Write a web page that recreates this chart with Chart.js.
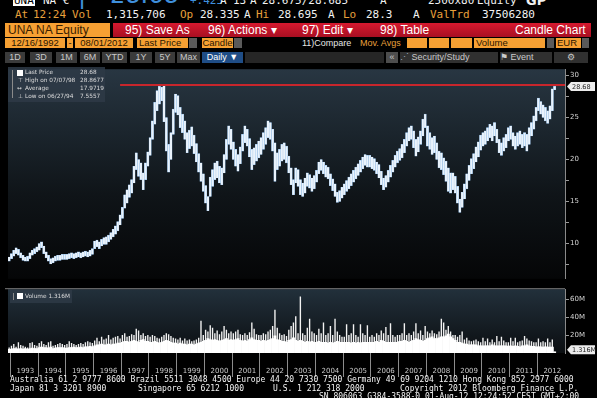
<!DOCTYPE html>
<html>
<head>
<meta charset="utf-8">
<script src="https://cdn.jsdelivr.net/npm/chart.js@4.4.0/dist/chart.umd.min.js"></script>
<style>
  body { margin: 0; background: #000; width: 597px; height: 398px; overflow: hidden; position: relative; font-family: "Liberation Sans", Arial, sans-serif; }
  .a { position: absolute; white-space: pre; }
  .m { font-family: "DejaVu Sans Mono", monospace; }
  .r1 { top: -5px; font-size: 11px; line-height: 11px; }
  .r2 { top: 9px; font-size: 11px; line-height: 12px; }
  .or { color: #e9a03c; }
  .wh { color: #f2f2f2; }
  .bl { color: #3f8fdc; }
  .box { position: absolute; background: #f6a033; color: #2a1600; font-size: 9.5px; line-height: 10px; text-align: center; }
  .gb { position: absolute; background: #5a5a5a; }
  .btn { position: absolute; top: 52px; height: 11px; background: #3b3b3b; color: #c9c9c9; font-size: 9px; line-height: 11px; text-align: center; }
  .red { position: absolute; color: #fff; font-size: 12px; line-height: 14px; top: 23px; }
  .lg { position: absolute; color: #dcdcdc; font-size: 5.8px; line-height: 7px; font-family: "DejaVu Sans", sans-serif; white-space: pre; }
  .ft { position: absolute; color: #f4f4f4; font-size: 8px; line-height: 9px; font-family: "DejaVu Sans Mono", monospace; white-space: pre; }
  canvas { position: absolute; left: 0; }
</style>
</head>
<body>
<!-- row 1, cut at the top -->
<div class="a m r1" style="left:13px;background:#fff;color:#000;padding:0 1px">UNA</div>
<div class="a m r1 wh" style="left:43px">NA €</div>
<div class="a bl" style="left:78px;top:-17px;font-size:24px;line-height:24px;font-family:'DejaVu Sans'">|</div>
<div class="a bl" style="left:110px;top:-17px;font-size:24px;line-height:24px;font-family:'DejaVu Sans'">28.68</div>
<div class="a m r1 bl" style="left:190px">+.425</div>
<div class="a m r1 wh" style="left:220px">A</div>
<div class="a m r1 wh" style="left:233px">13</div>
<div class="a m r1 wh" style="left:250px">A</div>
<div class="a m r1 wh" style="left:262px">28.675/28.685</div>
<div class="a m r1 wh" style="left:380px">A</div>
<div class="a m r1 wh" style="left:428px">2500x80</div>
<div class="a m r1 wh" style="left:477px">Equity</div>
<div class="a wh" style="left:526px;top:-6px;font-size:13px;line-height:13px;font-weight:bold;font-family:'DejaVu Sans'">GP</div>

<!-- row 2 -->
<div class="a m r2 or" style="left:15px">At</div>
<div class="a m r2 or" style="left:33px">12:24</div>
<div class="a m r2 or" style="left:72px">Vol</div>
<div class="a m r2 wh" style="left:106px">1,315,706</div>
<div class="a m r2 or" style="left:180px">Op</div>
<div class="a m r2 wh" style="left:200px">28.335</div>
<div class="a m r2 wh" style="left:244px">A</div>
<div class="a m r2 or" style="left:256px">Hi</div>
<div class="a m r2 wh" style="left:278px">28.695</div>
<div class="a m r2 wh" style="left:328px">A</div>
<div class="a m r2 or" style="left:343px">Lo</div>
<div class="a m r2 wh" style="left:366px">28.3</div>
<div class="a m r2 wh" style="left:413px">A</div>
<div class="a m r2 or" style="left:430px">ValTrd</div>
<div class="a m r2 wh" style="left:482px">37506280</div>

<!-- row 3 -->
<div class="a" style="left:5px;top:23px;width:105px;height:14px;background:#f6a033"></div>
<div class="a" style="left:8px;top:23px;font-size:12px;line-height:14px;color:#3a2000">UNA NA Equity</div>
<div class="a" style="left:113px;top:23px;width:478px;height:14px;background:linear-gradient(#d6192f,#a80f22)"></div>
<div class="red" style="left:125px">95) Save As</div>
<div class="red" style="left:208px">96) Actions ▾</div>
<div class="red" style="left:302px">97) Edit ▾</div>
<div class="red" style="left:380px">98) Table</div>
<div class="red" style="left:515px">Candle Chart</div>

<!-- row 4 -->
<div class="box" style="left:5px;top:38px;width:60px">12/16/1992</div>
<div class="box" style="left:67px;top:38px;width:6px">-</div>
<div class="box" style="left:75px;top:38px;width:58px">08/01/2012</div>
<div class="box" style="left:137px;top:38px;text-align:left;padding-left:2px;width:49px">Last Price</div>
<div class="gb" style="left:189px;top:38px;width:8px;height:10px"></div>
<div class="box" style="left:202px;top:38px;width:31px">Candle</div>
<div class="gb" style="left:234px;top:38px;width:8px;height:10px"></div>
<div class="a" style="left:302px;top:38px;font-size:9px;line-height:10px;color:#e6e6e6">11)Compare</div>
<div class="a or" style="left:360px;top:38px;font-size:9px;line-height:10px">Mov. Avgs</div>
<div class="box" style="left:407px;top:38px;width:20px;height:10px"></div>
<div class="box" style="left:429px;top:38px;width:20px;height:10px"></div>
<div class="box" style="left:451px;top:38px;width:21px;height:10px"></div>
<div class="box" style="left:474px;top:38px;width:69px;text-align:left;padding-left:2px">Volume</div>
<div class="gb" style="left:547px;top:38px;width:7px;height:10px"></div>
<div class="box" style="left:556px;top:38px;width:24px;text-align:left;padding-left:1px">EUR</div>
<div class="gb" style="left:582px;top:38px;width:7px;height:10px"></div>

<!-- row 5 -->
<div class="btn" style="left:5px;width:20px">1D</div>
<div class="btn" style="left:30px;width:22px">3D</div>
<div class="btn" style="left:56px;width:21px">1M</div>
<div class="btn" style="left:80px;width:20px">6M</div>
<div class="btn" style="left:102px;width:25px">YTD</div>
<div class="btn" style="left:130px;width:22px">1Y</div>
<div class="btn" style="left:155px;width:20px">5Y</div>
<div class="btn" style="left:177px;width:23px">Max</div>
<div class="btn" style="left:202px;width:41px;background:#1f4d86;color:#fff">Daily ▼</div>
<div class="btn" style="left:245px;width:139px;background:#262626"></div>
<div class="btn" style="left:386px;width:12px;background:#4d4d4d">«</div>
<div class="btn" style="left:400px;width:98px;background:#303030;text-align:left"><span style="color:#9ab">⋰</span> Security/Study</div>
<div class="btn" style="left:500px;width:52px;background:#303030;text-align:left"><span style="color:#ccc">⚑</span> Event</div>
<div class="btn" style="left:554px;width:34px;background:#303030">⚙</div>

<canvas id="price" width="597" height="220" style="top:64px"></canvas>
<canvas id="volume" width="597" height="94" style="top:284px"></canvas>

<!-- price legend -->
<div class="a" style="left:8px;top:67px;width:97px;height:35px;background:rgba(46,58,70,0.85)"></div>
<div class="a" style="left:12px;top:70px;width:1px;height:28px;background:#8a8a8a"></div>
<div class="a" style="left:17px;top:70px;width:6px;height:6px;background:#fff"></div>
<div class="lg" style="left:25px;top:69px">Last Price</div>
<div class="lg" style="left:80px;top:69px">28.68</div>
<div class="lg" style="left:18px;top:77px">⊤</div>
<div class="lg" style="left:25px;top:77px">High on 07/07/98</div>
<div class="lg" style="left:80px;top:77px">28.8677</div>
<div class="lg" style="left:17px;top:85px">↔</div>
<div class="lg" style="left:25px;top:85px">Average</div>
<div class="lg" style="left:80px;top:85px">17.9719</div>
<div class="lg" style="left:18px;top:93px">⊥</div>
<div class="lg" style="left:25px;top:93px">Low on 06/27/94</div>
<div class="lg" style="left:80px;top:93px">7.5557</div>

<!-- volume legend -->
<div class="a" style="left:10px;top:290px;width:62px;height:13px;background:rgba(46,58,70,0.85)"></div>
<div class="a" style="left:13px;top:293px;width:1px;height:7px;background:#8a8a8a"></div>
<div class="a" style="left:17px;top:293px;width:6px;height:6px;background:#fff"></div>
<div class="lg" style="left:25px;top:293px">Volume 1.316M</div>

<!-- footer -->
<div class="ft" style="left:10px;top:375px">Australia 61 2 9777 8600 Brazil 5511 3048 4500 Europe 44 20 7330 7500 Germany 49 69 9204 1210 Hong Kong 852 2977 6000</div>
<div class="ft" style="left:10px;top:384px">Japan 81 3 3201 8900</div>
<div class="ft" style="left:138px;top:384px">Singapore 65 6212 1000</div>
<div class="ft" style="left:273px;top:384px">U.S. 1 212 318 2000</div>
<div class="ft" style="left:400px;top:384px">Copyright 2012 Bloomberg Finance L.P.</div>
<div class="ft" style="left:319px;top:392px">SN 806063 G384-3588-0 01-Aug-12 12:24:52 CEST GMT+2:00</div>

<script>
// monthly candles, Dec 1992 .. Aug 2012 (EUR)
const years = ['1993', '1994', '1995', '1996', '1997', '1998', '1999', '2000', '2001', '2002',
  '2003', '2004', '2005', '2006', '2007', '2008', '2009', '2010', '2011', '2012'];
const monthCodes = ['01', '02', '03', '04', '05', '06', '07', '08', '09', '10', '11', '12'];

const priceLow = [
  7.9,
  8.2, 8.5, 8.8, 8.6, 8.3, 8.0, 7.9, 7.9, 8.2, 8.6, 8.8, 9.0,
  9.2, 9.5, 8.8, 8.3, 7.9, 7.56, 7.7, 7.9, 8.0, 8.0, 8.1, 8.1,
  8.1, 8.2, 8.3, 8.2, 8.3, 8.4, 8.3, 8.4, 8.5, 8.4, 8.5, 8.7,
  9.4, 9.6, 9.4, 9.7, 9.9, 9.9, 10.2, 10.5, 10.8, 11.1, 11.5, 12.2,
  13.0, 14.2, 14.8, 15.5, 16.0, 17.2, 18.8, 18.0, 17.6, 16.4, 17.6, 19.2,
  20.5, 22.4, 24.2, 25.8, 26.6, 27.0, 24.5, 21.0, 18.5, 20.0, 23.0, 25.6,
  25.3, 23.8, 23.2, 22.4, 20.8, 21.3, 21.6, 20.7, 19.7, 18.5, 17.4, 16.2,
  14.8, 13.9, 15.6, 16.8, 17.6, 17.8, 17.2, 17.0, 18.4, 20.0, 21.8, 21.2,
  20.0, 19.2, 18.6, 19.5, 21.0, 22.0, 21.6, 20.3, 18.8, 19.4, 19.8, 20.2,
  20.6, 21.2, 21.8, 22.6, 22.4, 21.0, 17.4, 18.8, 19.2, 19.8, 20.0, 19.6,
  18.4, 17.0, 15.8, 17.2, 16.8, 15.8, 15.6, 16.0, 16.8, 16.6, 16.2, 16.5,
  17.3, 18.3, 18.7, 18.3, 17.9, 17.7, 16.9, 16.3, 15.6, 14.9, 15.0, 15.4,
  15.8, 16.2, 16.5, 16.9, 17.3, 17.7, 18.1, 18.5, 18.9, 19.3, 19.1, 19.1,
  18.9, 18.7, 18.3, 17.8, 17.0, 16.4, 16.7, 17.3, 17.9, 18.5, 19.1, 19.6,
  19.9, 20.2, 20.8, 21.6, 22.2, 22.4, 21.4, 20.4, 20.9, 21.8, 22.8, 23.8,
  21.6, 21.2, 20.6, 20.8, 20.0, 19.0, 18.8, 18.2, 17.4, 16.2, 16.0, 16.4,
  16.0, 14.8, 13.7, 14.3, 15.3, 16.5, 17.5, 18.3, 18.9, 19.7, 20.3, 21.1,
  21.6, 21.8, 22.2, 22.6, 22.2, 22.8, 22.0, 20.8, 20.5, 21.0, 21.4, 22.2,
  22.4, 21.6, 21.2, 21.6, 21.8, 21.4, 21.6, 21.0, 21.8, 22.8, 23.6, 24.6,
  25.8, 25.4, 25.0, 24.6, 24.3, 24.8, 25.8, 28.3
];
const priceHigh = [
  8.4,
  8.8, 9.2, 9.5, 9.3, 8.9, 8.6, 8.4, 8.5, 8.9, 9.2, 9.4, 9.6,
  10.0, 10.2, 9.7, 9.0, 8.6, 8.2, 8.3, 8.5, 8.6, 8.6, 8.7, 8.7,
  8.7, 8.8, 8.9, 8.8, 8.9, 9.0, 8.9, 9.0, 9.1, 9.0, 9.2, 9.4,
  10.3, 10.4, 10.2, 10.5, 10.7, 10.8, 11.0, 11.3, 11.7, 12.1, 12.6, 13.4,
  14.3, 15.8, 16.4, 17.0, 17.6, 19.2, 20.8, 20.0, 19.6, 18.4, 19.6, 20.9,
  22.6, 24.6, 26.8, 28.2, 28.7, 28.6, 28.87, 25.0, 21.8, 23.2, 26.0, 27.8,
  27.6, 26.2, 25.4, 24.6, 23.2, 23.5, 23.9, 22.9, 21.9, 20.7, 19.6, 18.3,
  16.9, 15.6, 17.9, 18.8, 19.6, 19.8, 19.2, 19.0, 20.6, 22.4, 24.0, 23.6,
  22.1, 21.2, 20.6, 21.5, 23.0, 24.0, 23.6, 22.5, 21.2, 21.4, 21.8, 22.2,
  22.6, 23.2, 23.8, 24.6, 24.4, 23.6, 22.0, 20.8, 21.2, 21.8, 22.0, 21.6,
  20.4, 19.0, 17.6, 19.0, 18.8, 17.6, 17.2, 17.8, 18.4, 18.2, 17.8, 18.1,
  18.7, 19.7, 20.0, 19.7, 19.3, 19.1, 18.3, 17.7, 17.1, 16.1, 16.3, 16.7,
  17.1, 17.5, 17.9, 18.3, 18.7, 19.1, 19.5, 19.9, 20.3, 20.6, 20.5, 20.5,
  20.3, 20.1, 19.7, 19.4, 18.6, 17.8, 18.1, 18.7, 19.3, 19.9, 20.5, 21.0,
  21.3, 21.8, 22.4, 23.2, 23.8, 24.0, 23.4, 22.4, 22.7, 23.4, 24.8, 25.4,
  24.0, 23.2, 22.6, 22.8, 22.0, 21.0, 20.8, 20.2, 19.8, 19.0, 18.4, 18.4,
  18.0, 16.8, 15.3, 16.1, 17.1, 18.3, 19.3, 20.1, 20.7, 21.5, 22.1, 22.9,
  23.2, 23.4, 23.8, 24.2, 24.0, 24.4, 23.6, 22.4, 22.0, 22.6, 23.0, 23.8,
  24.0, 23.2, 22.8, 23.2, 23.4, 23.0, 23.2, 23.0, 23.8, 24.4, 25.2, 26.2,
  27.3, 26.9, 26.5, 26.2, 25.8, 26.4, 28.4, 28.7
];

// volume in millions: typical day and busiest day of each month
const volumeBase = [
  4,
  4.5, 5, 5, 4.5, 5, 4.5, 5, 4, 5, 5.5, 5, 5,
  6, 6.5, 6, 6, 5.5, 6.5, 5, 5.5, 6, 6, 6, 5.5,
  5.5, 6, 6, 6.5, 6, 6, 6.5, 6, 7, 7, 7.5, 7,
  8, 9, 9, 10, 9, 9, 10, 9, 10, 10, 11, 11,
  12, 13, 13, 12, 13, 14, 13, 12, 14, 15, 13, 13,
  12, 12, 13, 12, 11, 12, 13, 14, 13, 12, 11, 11,
  10, 11, 10, 10, 9, 10, 10, 9, 10, 11, 12, 13,
  14, 16, 15, 14, 15, 14, 13, 14, 15, 16, 14, 15,
  14, 15, 16, 14, 13, 14, 13, 15, 17, 15, 14, 14,
  13, 14, 13, 14, 15, 16, 19, 15, 14, 13, 13, 12,
  14, 15, 17, 14, 13, 14, 13, 12, 13, 12, 13, 12,
  12, 13, 12, 12, 12, 11, 12, 11, 12, 13, 12, 12,
  12, 12, 12, 11, 12, 11, 12, 11, 12, 12, 12, 12,
  12, 12, 13, 12, 14, 13, 12, 12, 12, 12, 12, 12,
  13, 13, 14, 13, 12, 13, 14, 16, 15, 14, 13, 14,
  16, 17, 18, 16, 16, 17, 18, 18, 19, 21, 18, 16,
  14, 12, 12, 11, 10, 10, 9, 9, 9, 9, 8, 8,
  8, 8, 8, 8, 9, 8, 8, 8, 8, 8, 8, 7.5,
  8, 7.5, 8, 7.5, 7, 8, 8, 9, 8, 7.5, 7.5, 7,
  7, 7, 6.5, 7, 6.5, 6.5, 6.5, 1.3
];
const volumePeak = [
  6,
  8, 10, 7, 12, 9, 8, 7, 6, 11, 12, 9, 8,
  11, 13, 10, 9, 12, 13, 8, 9, 10, 11, 10, 9,
  10, 13, 11, 10, 9, 10, 11, 10, 12, 13, 12, 11,
  14, 17, 13, 18, 15, 16, 20, 15, 17, 18, 19, 16,
  20, 22, 18, 19, 21, 20, 27, 25, 20, 22, 19, 20,
  18, 20, 19, 17, 16, 18, 20, 22, 21, 19, 17, 16,
  15, 17, 14, 16, 14, 15, 13, 14, 15, 17, 36, 20,
  26, 24, 31, 28, 22, 25, 21, 24, 30, 26, 22, 24,
  22, 24, 26, 21, 20, 22, 20, 23, 34, 27, 21, 20,
  20, 22, 21, 24, 26, 30, 48, 28, 22, 20, 21, 19,
  26, 30, 34, 41, 22, 63, 22, 20, 28, 38, 24, 22,
  20, 27, 22, 34, 20, 22, 30, 20, 38, 24, 20, 18,
  18, 32, 20, 22, 32, 20, 18, 32, 22, 20, 31, 18,
  20, 18, 22, 20, 25, 22, 29, 20, 33, 20, 18, 20,
  20, 22, 33, 20, 22, 20, 24, 33, 22, 25, 20, 30,
  24, 22, 25, 22, 21, 24, 38, 34, 26, 30, 24, 20,
  20, 18, 20, 24, 15, 17, 14, 13, 14, 15, 13, 12,
  17, 13, 16, 12, 15, 12, 19, 13, 18, 14, 12, 12,
  17, 13, 17, 12, 13, 14, 19, 16, 14, 13, 12, 12,
  16, 12, 13, 12, 16, 12, 15, 1.3
];

const priceTicks = [7.5, 10, 12.5, 15, 17.5, 20, 22.5, 25, 27.5, 30];
const volumeTicks = [20, 40, 60];
const lastPrice = 28.68;
const highPrice = 28.8677;
const highLineFrom = '1996-12';
const lastVolume = 1.316;

const labels = ['1992-12'];
years.forEach(y => monthCodes.forEach(m => labels.push(y + '-' + m)));

const axisFont = { family: 'DejaVu Sans', size: 7 };

function panelBackground(stops) {
  return {
    id: 'panelBg',
    beforeDraw(chart) {
      const { ctx, chartArea: a } = chart;
      const g = ctx.createLinearGradient(0, a.top, 0, a.bottom);
      stops.forEach(s => g.addColorStop(s[0], s[1]));
      ctx.save();
      ctx.fillStyle = g;
      ctx.fillRect(a.left, a.top, a.right - a.left, a.bottom - a.top);
      ctx.restore();
    }
  };
}

function valueTag(ctx, x, y, text) {
  ctx.save();
  ctx.fillStyle = '#ececec';
  ctx.beginPath();
  ctx.moveTo(x, y);
  ctx.lineTo(x + 4, y - 4.5);
  ctx.lineTo(x + 28, y - 4.5);
  ctx.lineTo(x + 28, y + 4.5);
  ctx.lineTo(x + 4, y + 4.5);
  ctx.closePath();
  ctx.fill();
  ctx.fillStyle = '#222';
  ctx.font = '6.5px "DejaVu Sans"';
  ctx.textBaseline = 'middle';
  ctx.fillText(text, x + 5, y + 0.5);
  ctx.restore();
}

const priceMarks = {
  id: 'priceMarks',
  afterDatasetsDraw(chart) {
    const { ctx, chartArea: a, scales } = chart;
    const y = scales.y.getPixelForValue(highPrice);
    const x0 = scales.x.getPixelForValue(labels.indexOf(highLineFrom));
    ctx.save();
    ctx.strokeStyle = '#c8262c';
    ctx.lineWidth = 2;
    ctx.beginPath();
    ctx.moveTo(x0, y);
    ctx.lineTo(a.right, y);
    ctx.stroke();
    ctx.restore();
  },
  afterDraw(chart) {
    const { ctx, chartArea: a, scales } = chart;
    valueTag(ctx, a.right + 2, scales.y.getPixelForValue(lastPrice), lastPrice.toFixed(2));
  }
};

const volumeMarks = {
  id: 'volumeMarks',
  afterDraw(chart) {
    const { ctx, chartArea: a, scales } = chart;
    ctx.save();
    ctx.strokeStyle = '#7a7a7a';
    ctx.lineWidth = 1;
    ctx.beginPath();
    ctx.moveTo(5, a.top - 0.5);
    ctx.lineTo(a.right, a.top - 0.5);
    ctx.stroke();
    ctx.restore();
    valueTag(ctx, a.right + 2, scales.y.getPixelForValue(lastVolume) - 2, lastVolume.toFixed(3) + 'M');
  }
};

new Chart(document.getElementById('price'), {
  type: 'bar',
  data: {
    labels,
    datasets: [{
      data: priceLow.map((lo, i) => [lo, priceHigh[i]]),
      backgroundColor: '#eaf3fc',
      borderColor: '#8cbbe9',
      borderWidth: 0.4,
      borderSkipped: false,
      barPercentage: 1,
      categoryPercentage: 1
    }]
  },
  options: {
    responsive: false,
    animation: false,
    layout: { padding: { left: 8, top: 2, bottom: 2, right: 0 } },
    plugins: { legend: { display: false }, tooltip: { enabled: false } },
    scales: {
      x: { display: false },
      y: {
        position: 'right',
        min: 5.8,
        max: 30.75,
        afterBuildTicks: s => { s.ticks = priceTicks.map(v => ({ value: v })); },
        afterFit: s => { s.width = 32; },
        grid: { drawOnChartArea: false, color: '#9a9a9a', tickLength: 4 },
        border: { color: '#8a8a8a' },
        ticks: { color: '#d4d4d4', font: axisFont, padding: 1, callback: v => (v % 5 === 0 ? v : '') }
      }
    }
  },
  plugins: [panelBackground([[0, '#283642'], [0.3, '#1b252d'], [0.6, '#0f1418'], [1, '#050607']]), priceMarks]
});

new Chart(document.getElementById('volume'), {
  type: 'bar',
  data: {
    labels,
    datasets: [
      { data: volumePeak, backgroundColor: '#f2f2f2', barPercentage: 0.6, categoryPercentage: 1, grouped: false, order: 2 },
      { data: volumeBase, backgroundColor: '#ffffff', barPercentage: 1, categoryPercentage: 1, grouped: false, order: 1 }
    ]
  },
  options: {
    responsive: false,
    animation: false,
    layout: { padding: { left: 8, top: 1, bottom: 0, right: 0 } },
    plugins: { legend: { display: false }, tooltip: { enabled: false } },
    scales: {
      x: {
        afterFit: s => { s.height = 25; },
        grid: {
          drawOnChartArea: false,
          offset: true,
          tickLength: 24,
          color: c => (labels[c.index] && labels[c.index].endsWith('-01') ? '#8c8c8c' : 'rgba(0,0,0,0)')
        },
        border: { display: false },
        ticks: {
          autoSkip: false,
          maxRotation: 0,
          padding: -10,
          color: '#c8c8c8',
          font: axisFont,
          callback: (v, i) => (labels[i].endsWith('-07') ? labels[i].slice(0, 4) : '')
        }
      },
      y: {
        position: 'right',
        min: 0,
        max: 71,
        afterBuildTicks: s => { s.ticks = volumeTicks.map(v => ({ value: v })); },
        afterFit: s => { s.width = 32; },
        grid: { drawOnChartArea: false, color: '#9a9a9a', tickLength: 4 },
        border: { color: '#8a8a8a' },
        ticks: { color: '#d4d4d4', font: axisFont, padding: 1, callback: v => v + 'M' }
      }
    }
  },
  plugins: [panelBackground([[0, '#22303b'], [1, '#0b0e11']]), volumeMarks]
});
</script>
</body>
</html>
